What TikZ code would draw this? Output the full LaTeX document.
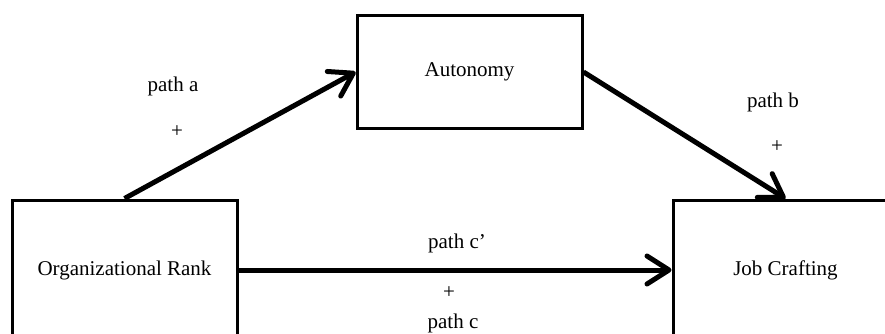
\documentclass[tikz,border=0pt]{standalone}
\usepackage{fontspec}
\setmainfont{Liberation Serif}
\usetikzlibrary{arrows.meta}
\begin{document}
\begin{tikzpicture}[x=1pt,y=-1pt,
  varbox/.style={draw,line width=3pt,minimum width=225pt,inner sep=0pt,font=\fontsize{21}{25}\selectfont},
  lbl/.style={font=\fontsize{21}{25}\selectfont,inner sep=0pt},
  patharrow/.style={line width=5pt,-{Straight Barb[length=22pt,width=28pt,round]}}]
\useasboundingbox (0,0) rectangle (885,334);
\clip (0,0) rectangle (885,334);
\node[varbox,minimum height=112pt] (auto) at (469.5,72) {Autonomy};
\node[varbox,minimum height=140pt] (org) at (124.5,270) {Organizational Rank};
\node[varbox,minimum height=140pt] (jc) at (785.5,270) {Job Crafting};
\draw[patharrow] (org.north) -- (auto.west);
\draw[patharrow] (auto.east) -- (jc.north);
\draw[patharrow] (org.east) -- (jc.west);
\node[lbl] (la) at (173,86) {path a};
\node[lbl] (pa) at (177,132) {+};
\node[lbl] (lb) at (773,102) {path b};
\node[lbl] (pb) at (777,147) {+};
\node[lbl] (lcp) at (457,243) {path c’};
\node[lbl] (pc) at (449,293) {+};
\node[lbl] (lc) at (453,323) {path c};
\end{tikzpicture}
\end{document}
